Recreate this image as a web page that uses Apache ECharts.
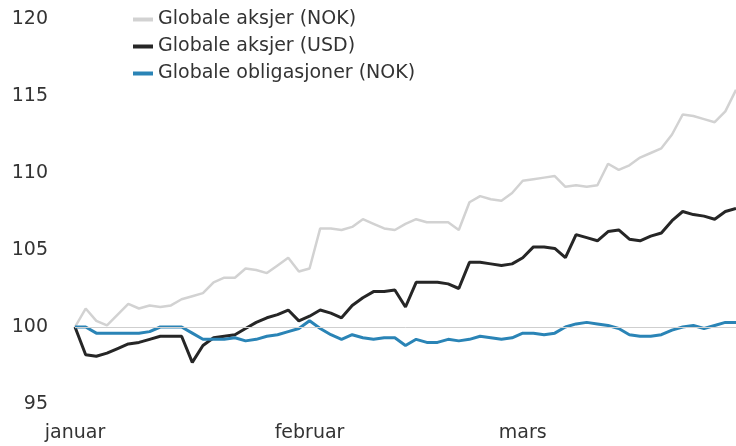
<!DOCTYPE html>
<html>
<head>
<meta charset="utf-8">
<script src="https://cdn.jsdelivr.net/npm/echarts@6/dist/echarts.min.js"></script>
<style>
  html, body { margin: 0; padding: 0; background: #fff; }
  #chart { width: 736px; height: 446px; }
</style>
</head>
<body>
<div id="chart"></div>
<script>
// trading days jan-mar
const days = [
  '01-02','01-03','01-04','01-05','01-08','01-09','01-10','01-11','01-12','01-15','01-16',
  '01-17','01-18','01-19','01-22','01-23','01-24','01-25','01-26','01-29','01-30','01-31',
  '02-01','02-02','02-05','02-06','02-07','02-08','02-09','02-12','02-13','02-14',
  '02-15','02-16','02-19','02-20','02-21','02-22','02-23','02-26','02-27','02-28',
  '03-01','03-04','03-05','03-06','03-07','03-08','03-11','03-12','03-13','03-14',
  '03-15','03-18','03-19','03-20','03-21','03-22','03-25','03-26','03-27','03-28','03-29'
];
const monthLabels = { '01-02': 'januar', '02-01': 'februar', '03-01': 'mars' };
const yTicks = [95, 100, 105, 110, 115, 120];

const aksjerNok = [
  100, 101.2, 100.4, 100.1, 100.8, 101.5, 101.2, 101.4, 101.3, 101.4, 101.8,
  102.0, 102.2, 102.9, 103.2, 103.2, 103.8, 103.7, 103.5, 104.0, 104.5, 103.6,
  103.8, 106.4, 106.4, 106.3, 106.5, 107.0, 106.7, 106.4, 106.3, 106.7,
  107.0, 106.8, 106.8, 106.8, 106.3, 108.1, 108.5, 108.3, 108.2, 108.7,
  109.5, 109.6, 109.7, 109.8, 109.1, 109.2, 109.1, 109.2, 110.6, 110.2,
  110.5, 111.0, 111.3, 111.6, 112.5, 113.8, 113.7, 113.5, 113.3, 114.0, 115.4
];
const aksjerUsd = [
  100, 98.2, 98.1, 98.3, 98.6, 98.9, 99.0, 99.2, 99.4, 99.4, 99.4,
  97.7, 98.8, 99.3, 99.4, 99.5, 99.9, 100.3, 100.6, 100.8, 101.1, 100.4,
  100.7, 101.1, 100.9, 100.6, 101.4, 101.9, 102.3, 102.3, 102.4, 101.3,
  102.9, 102.9, 102.9, 102.8, 102.5, 104.2, 104.2, 104.1, 104.0, 104.1,
  104.5, 105.2, 105.2, 105.1, 104.5, 106.0, 105.8, 105.6, 106.2, 106.3,
  105.7, 105.6, 105.9, 106.1, 106.9, 107.5, 107.3, 107.2, 107.0, 107.5, 107.7
];
const obligasjonerNok = [
  100, 100, 99.6, 99.6, 99.6, 99.6, 99.6, 99.7, 100.0, 100.0, 100.0,
  99.6, 99.2, 99.2, 99.2, 99.3, 99.1, 99.2, 99.4, 99.5, 99.7, 99.9,
  100.4, 99.9, 99.5, 99.2, 99.5, 99.3, 99.2, 99.3, 99.3, 98.8,
  99.2, 99.0, 99.0, 99.2, 99.1, 99.2, 99.4, 99.3, 99.2, 99.3,
  99.6, 99.6, 99.5, 99.6, 100.0, 100.2, 100.3, 100.2, 100.1, 99.9,
  99.5, 99.4, 99.4, 99.5, 99.8, 100.0, 100.1, 99.9, 100.1, 100.3, 100.3
];

const font = 'DejaVu Sans';
const textColor = '#333';

const chart = echarts.init(document.getElementById('chart'));
chart.setOption({
  animation: false,
  textStyle: { fontFamily: font },
  legend: {
    orient: 'vertical',
    left: 128,
    top: 5,
    itemWidth: 20,
    itemHeight: 4,
    itemGap: 8,
    icon: 'rect',
    textStyle: { fontFamily: font, fontSize: 19, lineHeight: 19, color: textColor },
    data: ['Globale aksjer (NOK)', 'Globale aksjer (USD)', 'Globale obligasjoner (NOK)']
  },
  grid: { left: 75, right: 0, top: 19, bottom: 42 },
  xAxis: {
    type: 'category',
    boundaryGap: false,
    data: days,
    axisLine: { show: false },
    axisTick: { show: false },
    splitLine: { show: false },
    axisLabel: {
      interval: (i, v) => v in monthLabels,
      formatter: v => monthLabels[v] || '',
      margin: 20,
      fontFamily: font,
      fontSize: 19,
      color: textColor
    }
  },
  yAxis: {
    type: 'value',
    min: yTicks[0],
    max: yTicks[yTicks.length - 1],
    interval: 5,
    axisLine: { show: false },
    axisTick: { show: false },
    splitLine: { show: false },
    axisLabel: { margin: 27, fontFamily: font, fontSize: 19, color: textColor }
  },
  series: [
    {
      name: 'Globale aksjer (NOK)',
      type: 'line',
      data: aksjerNok,
      showSymbol: false,
      color: '#d2d2d2',
      lineStyle: { width: 2.5, color: '#d2d2d2' },
      markLine: {
        silent: true,
        symbol: 'none',
        label: { show: false },
        lineStyle: { color: '#cfcfcf', width: 1, type: 'solid' },
        data: [{ yAxis: 100 }]
      }
    },
    {
      name: 'Globale aksjer (USD)',
      type: 'line',
      data: aksjerUsd,
      showSymbol: false,
      color: '#262626',
      lineStyle: { width: 3, color: '#262626' }
    },
    {
      name: 'Globale obligasjoner (NOK)',
      type: 'line',
      data: obligasjonerNok,
      showSymbol: false,
      color: '#2a84b6',
      lineStyle: { width: 3, color: '#2a84b6' }
    }
  ]
});
</script>
</body>
</html>
